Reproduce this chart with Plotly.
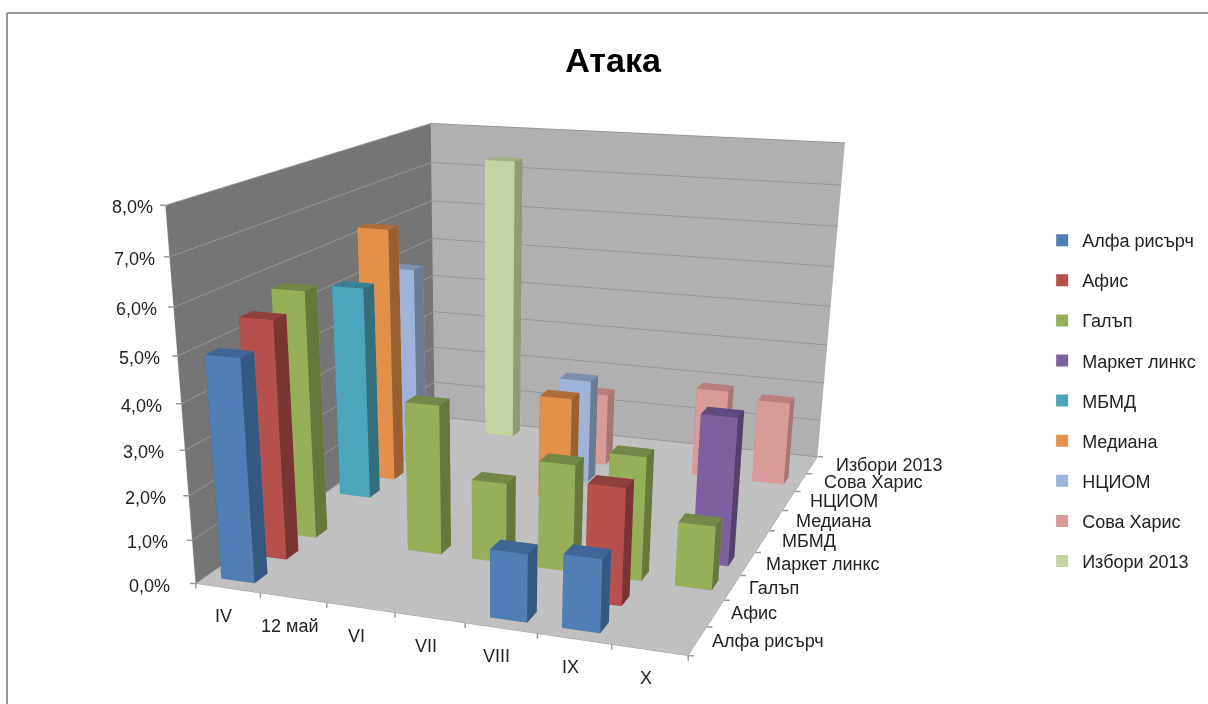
import plotly.graph_objects as go

title = "Атака"
categories = ["IV", "12 май", "VI", "VII", "VIII", "IX", "X"]
series_names = ["Алфа рисърч", "Афис", "Галъп", "Маркет линкс", "МБМД", "Медиана", "НЦИОМ", "Сова Харис", "Избори 2013"]
alfa = [4.95, None, None, None, 1.5, 1.6, None]
afis = [5.4, None, None, None, None, 2.6, None]
galup = [5.7, None, 3.45, 1.85, 2.45, 2.8, 1.45]
market = [None, None, None, None, None, None, 3.4]
mbmd = [5.15, None, None, None, None, None, None]
mediana = [6.25, None, None, 2.55, None, None, None]
nciom = [5.0, None, None, 2.6, None, None, None]
sova = [None, None, None, 1.85, None, 2.25, 2.1]
izbori = [None, 7.3, None, None, None, None, None]
all_series = [alfa, afis, galup, market, mbmd, mediana, nciom, sova, izbori]
z_ticks = [0, 1, 2, 3, 4, 5, 6, 7, 8]

front = ["#4f7fb5", "#b5504d", "#96b05a", "#7d60a0", "#4ba5bd", "#e2904a", "#9fb4da", "#d99a9a", "#c3d4a2"]
side = ["#355880", "#7a3432", "#66783c", "#54406c", "#326e7e", "#9a6030", "#6c7a94", "#a87575", "#8f9d76"]
top = ["#3f6696", "#8f3f3d", "#738748", "#5f4a80", "#3a8196", "#ad6c38", "#7d8fb0", "#b98080", "#a0b083"]

# The figure is taller than the visible window: plotly's perspective has a fixed
# field of view, so a taller scene gives the flatter perspective of the reference.
W, H = 1208, 1400
CX = 486.67
BAR_W = 0.26
BAR_D = 0.20


def box_mesh(cols, row, heights):
    xs, ys, zs, i, j, k, fc = [], [], [], [], [], [], []
    for c_, h in zip(cols, heights):
        x0, x1 = c_ + 0.5 - BAR_W, c_ + 0.5 + BAR_W
        y0, y1 = row + 0.5 - BAR_D, row + 0.5 + BAR_D
        z1 = h / 100
        n = len(xs)
        xs += [x0, x1, x1, x0, x0, x1, x1, x0]
        ys += [y0, y0, y1, y1, y0, y0, y1, y1]
        zs += [0, 0, 0, 0, z1, z1, z1, z1]
        faces = [
            (0, 1, 5, front[row]), (0, 5, 4, front[row]),
            (1, 2, 6, side[row]), (1, 6, 5, side[row]),
            (4, 5, 6, top[row]), (4, 6, 7, top[row]),
            (3, 2, 6, front[row]), (3, 6, 7, front[row]),
            (0, 3, 7, side[row]), (0, 7, 4, side[row]),
            (0, 1, 2, side[row]), (0, 2, 3, side[row]),
        ]
        for a, b, d, col in faces:
            i.append(n + a); j.append(n + b); k.append(n + d); fc.append(col)
    return xs, ys, zs, i, j, k, fc


fig = go.Figure()
for row, (name, vals) in enumerate(zip(series_names, all_series)):
    cols = [c_ for c_, v in enumerate(vals) if v is not None]
    hs = [v for v in vals if v is not None]
    xs, ys, zs, i, j, k, fc = box_mesh(cols, row, hs)
    fig.add_trace(go.Mesh3d(
        x=xs, y=ys, z=zs, i=i, j=j, k=k, facecolor=fc, flatshading=True,
        name=name, showlegend=False, legendgroup=name, hoverinfo="name",
        lighting=dict(ambient=1, diffuse=0, specular=0, roughness=1, fresnel=0),
    ))
    fig.add_trace(go.Scatter3d(
        x=[None], y=[None], z=[None], mode="markers", name=name, legendgroup=name,
        marker=dict(symbol="square", size=8, color=front[row]),
    ))

tick_font = dict(family="Liberation Sans", size=18, color="#222222")
ann = []
for c_, lab in enumerate(categories):
    ann.append(dict(x=c_ + 0.5, y=0, z=0, text=lab, showarrow=False, xshift=-4, yshift=-28, font=tick_font))
for r_, lab in enumerate(series_names):
    ann.append(dict(x=7, y=r_ + 0.5, z=0, text=lab, showarrow=False, xanchor="left", xshift=12 + 1.25 * r_, yshift=0, font=tick_font))
for t in z_ticks:
    ann.append(dict(x=0, y=0, z=t / 100, text=f"{t},0%", showarrow=False, xanchor="right", xshift=-24 + 13 * t / 8, yshift=-2, font=tick_font))
tick_style = dict(text=" ", showarrow=True, arrowhead=0, arrowwidth=1.5, arrowcolor="#999999", font=dict(size=1))
for c_ in range(8):
    ann.append(dict(x=c_, y=0, z=0, ax=0, ay=7, **tick_style))
for r_ in range(10):
    ann.append(dict(x=7, y=r_, z=0, ax=7, ay=0, **tick_style))
for t in z_ticks:
    ann.append(dict(x=0, y=0, z=t / 100, ax=-7, ay=0, **tick_style))

py = lambda px: 1 - px / H
fig.update_layout(
    width=W, height=H, margin=dict(l=0, r=0, t=0, b=0),
    paper_bgcolor="white",
    title=dict(text=f"<b>{title}</b>", x=0.5075, xanchor="center", y=py(60), yanchor="middle",
               font=dict(family="Liberation Sans", size=34, color="#000000")),
    legend=dict(x=0.8627, y=py(222), xanchor="left", yanchor="top",
                font=dict(family="Liberation Sans", size=18, color="#222222"),
                tracegroupgap=13.7, itemsizing="constant", bgcolor="rgba(0,0,0,0)"),
    scene=dict(
        domain=dict(x=[0, 2 * CX / W], y=[0.0, 1.0]),
        aspectmode="manual", aspectratio=dict(x=1.3, y=1.6367, z=0.9466),
        camera=dict(eye=dict(x=1.4680, y=-4.3523, z=1.1355), center=dict(x=0.0986, y=-0.6840, z=-0.7404),
                    projection=dict(type="perspective")),
        xaxis=dict(range=[0, 7], title="", showticklabels=False, showgrid=False, zeroline=False, showbackground=True,
                   backgroundcolor="#757575", showline=True, linecolor="#999999", ticks="", showspikes=False),
        yaxis=dict(range=[0, 9], title="", showticklabels=False, showgrid=False, zeroline=False, showbackground=True,
                   backgroundcolor="#b0b0b0", showline=True, linecolor="#999999", ticks="", showspikes=False),
        zaxis=dict(range=[0, 0.08], title="", tickvals=[t / 100 for t in z_ticks], showticklabels=False,
                   showgrid=True, gridcolor="#969696", zeroline=False, showbackground=True, backgroundcolor="#c0c0c0",
                   showline=True, linecolor="#999999", ticks="", showspikes=False),
        annotations=ann,
    ),
    shapes=[
        dict(type="line", xref="paper", yref="paper", x0=7 / W, x1=1, y0=py(13), y1=py(13), line=dict(color="#969696", width=2)),
        dict(type="line", xref="paper", yref="paper", x0=7 / W, x1=7 / W, y0=0, y1=py(13), line=dict(color="#969696", width=2)),
    ],
)
fig.write_html("out.html", config={"displayModeBar": False},
               post_script="document.body.style.margin='0';var g=document.getElementById('{plot_id}');g.parentElement.style.height='704px';g.parentElement.style.overflow='hidden';document.documentElement.style.overflow='hidden';")
